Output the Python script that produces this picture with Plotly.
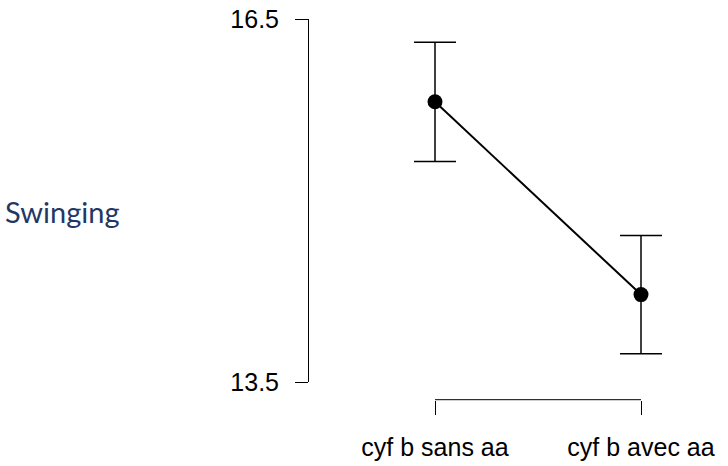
import plotly.graph_objects as go

# ---- data ----
categories = ["cyf b sans aa", "cyf b avec aa"]
positions = [1, 2]
means = [15.816, 14.224]
errors = [0.492, 0.488]
y_ticks = [13.5, 16.5]
y_tick_labels = ["13.5", "16.5"]
row_label = "Swinging"

# ---- layout geometry (pixels) ----
W, H = 728, 466
left = 309           # y axis line x
top = 19             # y = 16.5
y_bottom_px = 394    # y = 13.5
bracket_px = 412     # x bracket line
px1, px2 = 435, 641  # category centres

plot_w = W - left
plot_h = H - top
ppu = (px2 - px1) / (positions[1] - positions[0])
x_range = [positions[0] - (px1 - left) / ppu, positions[0] + (W - px1) / ppu]

fig = go.Figure()
fig.add_trace(go.Scatter(
    x=positions, y=means,
    mode="lines+markers",
    line=dict(color="black", width=2),
    marker=dict(color="black", size=15),
    error_y=dict(type="data", array=errors, visible=True, color="black", thickness=1.5, width=21),
    cliponaxis=False,
    hoverinfo="skip",
    showlegend=False,
))

# bracket line for x axis (R-style)
fig.add_shape(type="line", xref="x", yref="paper",
              x0=positions[0], x1=positions[-1],
              y0=(H - bracket_px) / plot_h, y1=(H - bracket_px) / plot_h,
              line=dict(color="black", width=1))

fig.add_annotation(text=row_label, xref="paper", yref="paper",
                   x=(3 - left) / plot_w, y=(H - 218) / plot_h,
                   xanchor="left", yanchor="middle", showarrow=False,
                   font=dict(family="Lato", size=29, color="#1f3864"))

fig.update_layout(
    width=W, height=H,
    margin=dict(l=left, r=0, t=top, b=0),
    paper_bgcolor="white", plot_bgcolor="white",
    xaxis=dict(
        range=x_range, domain=[0, 1],
        anchor="free", position=(H - bracket_px) / plot_h,
        showline=False, showgrid=False, zeroline=False,
        tickmode="array", tickvals=positions, ticktext=categories,
        ticks="outside", ticklen=14, tickwidth=1, tickcolor="black",
        ticklabelstandoff=11,
        tickfont=dict(family="Liberation Sans", size=25, color="black"),
    ),
    yaxis=dict(
        range=[y_ticks[0], y_ticks[-1]],
        domain=[(H - y_bottom_px) / plot_h, 1],
        showline=True, linecolor="black", linewidth=1,
        showgrid=False, zeroline=False,
        tickmode="array", tickvals=y_ticks, ticktext=y_tick_labels,
        ticks="outside", ticklen=13, tickwidth=1, tickcolor="black",
        ticklabelstandoff=11,
        tickfont=dict(family="Liberation Sans", size=25, color="black"),
    ),
)

fig.write_html("out.html")
